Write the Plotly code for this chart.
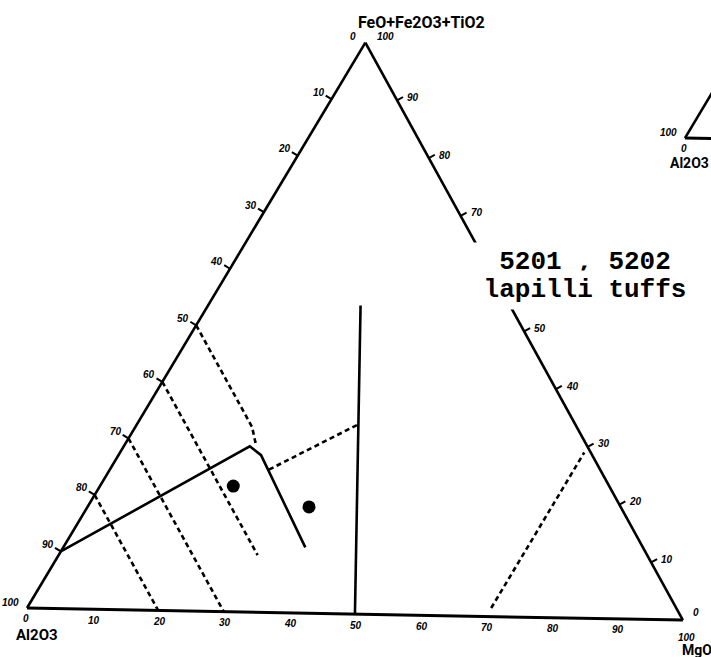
import math
import plotly.graph_objects as go

# ---------------- data (percent; FeO+Fe2O3+TiO2 = 100 - Al2O3 - MgO) ----------------
sample_al2o3 = [57.9, 48.0]
sample_mgo = [20.1, 33.4]

boundary_al2o3 = [90, 52, 51, 52]
boundary_mgo = [0, 19, 21.5, 36.5]

join_al2o3 = [50, 23]
join_mgo = [50, 23]

iso50_al2o3 = [50, 50, 51]
iso50_mgo = [0, 17.6, 20]
iso60_al2o3 = [60, 60]
iso60_mgo = [0, 30]
iso70_al2o3 = [70, 70]
iso70_mgo = [0, 30]
iso80_al2o3 = [80, 80]
iso80_mgo = [0, 20]
tie_al2o3 = [51, 33.4]
tie_mgo = [24, 33.4]
mg70_al2o3 = [28.5, 1]
mg70_mgo = [70, 70]

tick_values = [10, 20, 30, 40, 50, 60, 70, 80, 90]
right_tick_values = [10, 20, 30, 40, 50, 70, 80, 90]   # 60 is hidden under the title box

label_top = "FeO+Fe2O3+TiO2"
label_left = "Al2O3"
label_right = "MgO"
title_line1 = "5201 , 5202"
title_line2 = "lapilli tuffs"

# ---------------- projection (ternary -> cartesian, slight scan rotation) ----------------
ROT = math.radians(-1.05)
NEXT_DIAGRAM_OFFSET = (100.3, 71.2)


def proj(a, m, off=(0.0, 0.0)):
    f = 100.0 - a - m
    X = m + f / 2.0
    Y = f * math.sqrt(3) / 2.0
    xr = X * math.cos(ROT) - Y * math.sin(ROT) + off[0]
    yr = X * math.sin(ROT) + Y * math.cos(ROT) + off[1]
    return xr, yr


def path(al, mg, off=(0.0, 0.0)):
    pts = [proj(a, m, off) for a, m in zip(al, mg)]
    return [p[0] for p in pts], [p[1] for p in pts]


fig = go.Figure()
BLACK = "#000000"
EDGE_W = 2.6
DASH = "5px,3.5px"


def add_line(al, mg, dash=None, width=2.6, off=(0.0, 0.0)):
    x, y = path(al, mg, off)
    fig.add_trace(go.Scatter(x=x, y=y, mode="lines",
                             line=dict(color=BLACK, width=width, dash=dash or "solid"),
                             hoverinfo="skip", showlegend=False))


# triangle edges (Al2O3 corner, MgO corner, FeO... corner)
add_line([100, 0], [0, 100], width=3.0)      # bottom edge
add_line([100, 0], [0, 0], width=EDGE_W)     # left edge
add_line([0, 0], [0, 100], width=EDGE_W)     # right edge

# neighbouring diagram (cut off at the page edge)
add_line([100, 0], [0, 100], width=3.0, off=NEXT_DIAGRAM_OFFSET)
add_line([100, 0], [0, 0], width=EDGE_W, off=NEXT_DIAGRAM_OFFSET)

# tick strokes
T = 1.2
tx, ty = [], []
for v in tick_values:
    x0, y0 = proj(v, 0)
    x1, y1 = proj(v + T / 2, -T)
    tx += [x0, x1, None]
    ty += [y0, y1, None]
for v in right_tick_values:
    x0, y0 = proj(0, 100 - v)
    x1, y1 = proj(-T, 100 - v + T / 2)
    tx += [x0, x1, None]
    ty += [y0, y1, None]
x0, y0 = proj(90, 0, NEXT_DIAGRAM_OFFSET)
x1, y1 = proj(90 + T / 2, -T, NEXT_DIAGRAM_OFFSET)
tx += [x0, x1, None]
ty += [y0, y1, None]
fig.add_trace(go.Scatter(x=tx, y=ty, mode="lines", line=dict(color=BLACK, width=2),
                         hoverinfo="skip", showlegend=False))

# field lines
add_line(boundary_al2o3, boundary_mgo)
add_line(join_al2o3, join_mgo)
for al, mg in [(iso50_al2o3, iso50_mgo), (iso60_al2o3, iso60_mgo),
               (iso70_al2o3, iso70_mgo), (iso80_al2o3, iso80_mgo),
               (tie_al2o3, tie_mgo), (mg70_al2o3, mg70_mgo)]:
    add_line(al, mg, dash=DASH, width=2.6)

# samples
sx, sy = path(sample_al2o3, sample_mgo)
fig.add_trace(go.Scatter(x=sx, y=sy, mode="markers",
                         marker=dict(color=BLACK, size=13, symbol="circle"),
                         showlegend=False, hoverinfo="skip"))

# ---------------- annotations ----------------
ann = []
TICK_FONT = dict(family="Liberation Sans", size=10, color=BLACK)
NAME_FONT = dict(family="Roboto", size=15, color=BLACK)


def lab(xy, text, xa, xs, ys, font=TICK_FONT):
    ann.append(dict(x=xy[0], y=xy[1], xref="x", yref="y", text=text, showarrow=False,
                    xanchor=xa, yanchor="middle", xshift=xs, yshift=ys, font=font))


# left edge (Al2O3 %)
for v in tick_values:
    lab(proj(v, 0), "<b><i>%d</i></b>" % v, "right", -5, 7)
lab(proj(0, 0), "<b><i>0</i></b>", "right", -7, 6)
lab(proj(100, 0), "<b><i>100</i></b>", "right", -6, 6)
# right edge (FeO+Fe2O3+TiO2 %)
for v in right_tick_values:
    lab(proj(0, 100 - v), "<b><i>%d</i></b>" % v, "left", 8, 3)
lab(proj(0, 0), "<b><i>100</i></b>", "left", 10, 6)
lab(proj(0, 100), "<b><i>0</i></b>", "left", 8, 8)
# bottom edge (MgO %)
for v in tick_values:
    lab(proj(100 - v, v), "<b><i>%d</i></b>" % v, "center", 1, -11)
lab(proj(100, 0), "<b><i>0</i></b>", "center", -1, -10)
lab(proj(0, 100), "<b><i>100</i></b>", "center", 4, -17)

# corner names
lab(proj(0, 0), "<b>%s</b>" % label_top, "left", -9, 20, dict(NAME_FONT, size=16))
lab(proj(100, 0), "<b>%s</b>" % label_left, "center", 10, -27, NAME_FONT)
lab(proj(0, 100), "<b>%s</b>" % label_right, "center", 14, -30, dict(NAME_FONT, size=14))

# neighbouring diagram labels
lab(proj(90, 0, NEXT_DIAGRAM_OFFSET), "<b><i>90</i></b>", "right", -6, 7)
lab(proj(100, 0, NEXT_DIAGRAM_OFFSET), "<b><i>100</i></b>", "right", -6, 6)
lab(proj(100, 0, NEXT_DIAGRAM_OFFSET), "<b><i>0</i></b>", "center", -1, -10)
lab(proj(100, 0, NEXT_DIAGRAM_OFFSET), "<b>%s</b>" % label_left, "right", 26, -25,
    dict(NAME_FONT, size=14))

# sample title with white box masking the right edge
TITLE_FONT = dict(family="Liberation Mono", size=26, color=BLACK)
for txt, yp in [(title_line1, 1 - 262 / 657), (title_line2, 1 - 290 / 657)]:
    ann.append(dict(x=585 / 711, y=yp, xref="paper", yref="paper", text="<b>%s</b>" % txt,
                    showarrow=False, xanchor="center", yanchor="middle",
                    font=TITLE_FONT, bgcolor="white", width=222, height=34, borderpad=2))

fig.update_layout(
    width=711, height=657,
    margin=dict(l=0, r=0, t=0, b=0),
    paper_bgcolor="white", plot_bgcolor="white",
    showlegend=False,
    xaxis=dict(range=[-4.116, 104.27], visible=False, fixedrange=True),
    yaxis=dict(range=[-7.42, 92.12], visible=False, fixedrange=True),
    annotations=ann,
)

fig.write_html("out.html")
